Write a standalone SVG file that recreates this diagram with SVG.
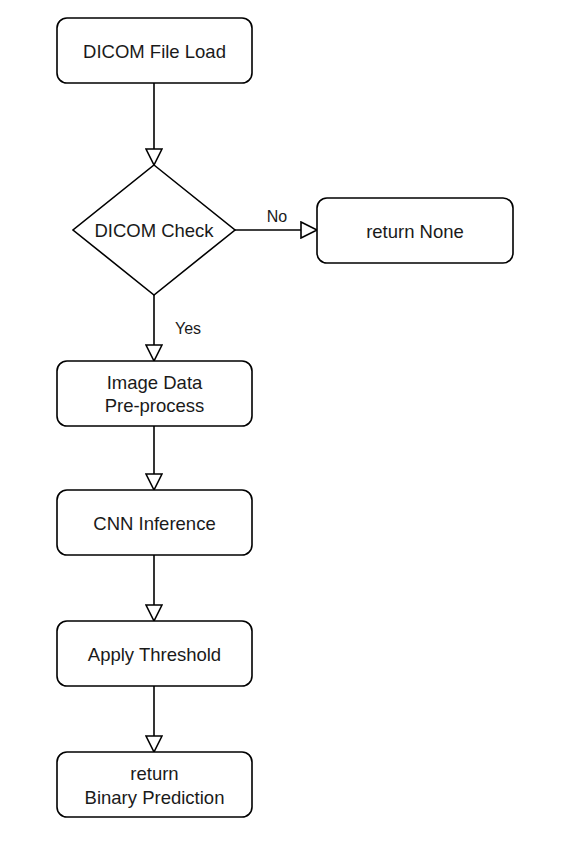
<svg xmlns="http://www.w3.org/2000/svg" width="568" height="860" viewBox="0 0 568 860">
<defs>
<style>
.node{fill:#ffffff;stroke:#000000;stroke-width:1.6}
.t{font-family:"Liberation Sans",Arial,sans-serif;font-size:18.5px;fill:#1a1a1a;text-anchor:middle;dominant-baseline:central}
.lbl{font-family:"Liberation Sans",Arial,sans-serif;font-size:16px;fill:#1a1a1a;text-anchor:middle}
.edge{fill:none;stroke:#000000;stroke-width:1.6;marker-end:url(#arr)}
</style>
<marker id="arr" markerUnits="userSpaceOnUse" markerWidth="20" markerHeight="18" refX="16" refY="8" orient="auto" viewBox="-1 -1 20 18">
<path d="M0,0 L16,8 L0,16 Z" fill="#ffffff" stroke="#000000" stroke-width="1.6"/>
</marker>
</defs>
<rect width="568" height="860" fill="#ffffff"/>
<g id="connectors">
<path class="edge" d="M154,83 L154,165"/>
<path class="edge" d="M235,230 L317,230"/>
<path class="edge" d="M154,295 L154,361"/>
<path class="edge" d="M154,426 L154,490"/>
<path class="edge" d="M154,555 L154,621"/>
<path class="edge" d="M154,686 L154,752"/>
<text class="lbl" x="277" y="222">No</text>
<text class="lbl" x="188" y="334">Yes</text>
</g>
<g id="load">
<rect class="node" x="57" y="18" width="195" height="65" rx="10"/>
<text class="t" x="154.5" y="51">DICOM File Load</text>
</g>
<g id="check">
<polygon class="node" points="154,165 235,230 154,295 73,230"/>
<text class="t" x="154" y="230">DICOM Check</text>
</g>
<g id="none">
<rect class="node" x="317" y="198" width="196" height="65" rx="10"/>
<text class="t" x="415" y="231">return None</text>
</g>
<g id="preprocess">
<rect class="node" x="57" y="361" width="195" height="65" rx="10"/>
<text class="t" x="154.5" y="382">Image Data</text>
<text class="t" x="154.5" y="405">Pre-process</text>
</g>
<g id="cnn">
<rect class="node" x="57" y="490" width="195" height="65" rx="10"/>
<text class="t" x="154.5" y="523">CNN Inference</text>
</g>
<g id="threshold">
<rect class="node" x="57" y="621" width="195" height="65" rx="10"/>
<text class="t" x="154.5" y="654">Apply Threshold</text>
</g>
<g id="result">
<rect class="node" x="57" y="752" width="195" height="65" rx="10"/>
<text class="t" x="154.5" y="773">return</text>
<text class="t" x="154.5" y="797">Binary Prediction</text>
</g>
</svg>
